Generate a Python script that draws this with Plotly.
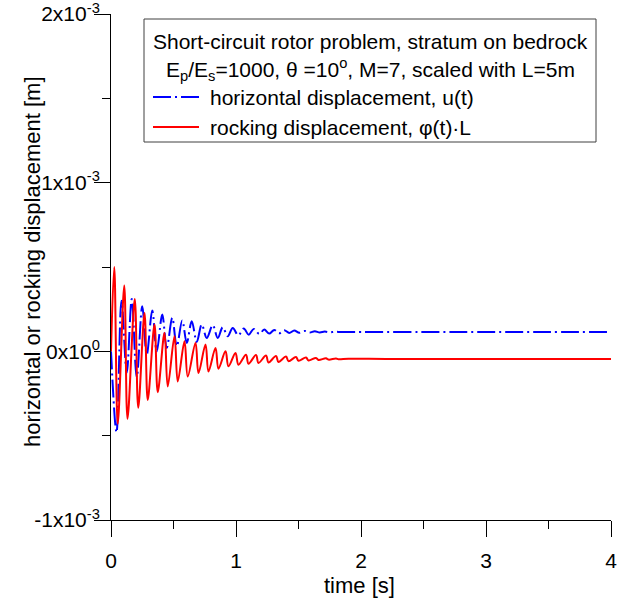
import numpy as np
import plotly.graph_objects as go

# ---- data (displacements, in units of 1e-3 m) ----
t_u = [0.0, 0.044, 0.084, 0.126, 0.166, 0.206, 0.250, 0.286, 0.330, 0.366, 0.410,
       0.446, 0.490, 0.526, 0.570, 0.606, 0.646, 0.686, 0.726, 0.766, 0.814,
       0.854, 0.894, 0.934, 0.974, 1.018, 1.062, 1.102, 1.142, 1.186, 1.226,
       1.266, 1.306, 1.346, 1.386, 1.426, 1.466, 1.506, 1.55, 1.59, 1.63, 1.67,
       1.71, 1.75, 1.79, 1.85, 1.95, 2.5, 3.0, 3.5, 4.0]
u_mm = [0.0, -0.48, 0.30, -0.127, 0.31, -0.155, 0.268, -0.02, 0.242, 0.0, 0.218,
        0.02, 0.199, 0.03, 0.183, 0.05, 0.179, 0.056, 0.159, 0.079, 0.155,
        0.079, 0.143, 0.089, 0.139, 0.095, 0.135, 0.099, 0.133, 0.103, 0.129,
        0.105, 0.127, 0.107, 0.125, 0.109, 0.124, 0.110, 0.121, 0.111, 0.119, 0.112,
        0.117, 0.113, 0.116, 0.114, 0.115, 0.115, 0.115, 0.115, 0.115]

t_phi = [0.0, 0.026, 0.054, 0.106, 0.132, 0.190, 0.218, 0.268, 0.294, 0.348, 0.374,
         0.428, 0.454, 0.508, 0.534, 0.588, 0.614, 0.676, 0.700, 0.756, 0.780,
         0.836, 0.860, 0.916, 0.940, 0.996, 1.020, 1.080, 1.100, 1.160, 1.180,
         1.240, 1.260, 1.320, 1.340, 1.400, 1.420, 1.480, 1.500, 1.560, 1.580,
         1.640, 1.660, 1.720, 1.740, 1.800, 1.820, 1.900, 2.2, 3.0, 4.0]
phiL_mm = [0.0, 0.50, -0.43, 0.39, -0.40, 0.31, -0.335, 0.228, -0.288, 0.159, -0.242,
           0.11, -0.208, 0.089, -0.179, 0.06, -0.149, 0.05, -0.129, 0.04, -0.119,
           0.02, -0.103, 0.0, -0.089, -0.01, -0.079, -0.02, -0.073, -0.022, -0.069,
           -0.025, -0.066, -0.028, -0.063, -0.031, -0.058, -0.034, -0.056, -0.037, -0.054,
           -0.039, -0.051, -0.041, -0.049, -0.043, -0.047, -0.044, -0.045, -0.045, -0.045]

y_tickvals = [-1e-3, 0.0, 1e-3, 2e-3]
y_ticktext = ["-1x10<sup>-3</sup>", "0x10<sup>0</sup>", "1x10<sup>-3</sup>", "2x10<sup>-3</sup>"]
x_tickvals = [0, 1, 2, 3, 4]

legend_title1 = "Short-circuit rotor problem, stratum on bedrock"
legend_title2 = "E<sub>p</sub>/E<sub>s</sub>=1000, \u03b8 =10<sup>o</sup>, M=7, scaled with L=5m"
name_u = "horizontal displacement, u(t)"
name_phi = "rocking displacement, \u03c6(t)\u00b7L"

FONT = "Arial, Liberation Sans, sans-serif"
BLUE = "#0000ff"
RED = "#ff0000"
DASHDOT = "18px,4px,2px,4px"

u = np.array(u_mm) * 1e-3
phiL = np.array(phiL_mm) * 1e-3

fig = go.Figure()
fig.add_trace(go.Scatter(x=t_u, y=u, mode="lines", name=name_u,
                         line=dict(color=BLUE, width=2, dash=DASHDOT, shape="spline", smoothing=1.0),
                         showlegend=False))
fig.add_trace(go.Scatter(x=t_phi, y=phiL, mode="lines", name=name_phi,
                         line=dict(color=RED, width=2, shape="spline", smoothing=1.0),
                         showlegend=False))

W, H = 618, 599
L, R, T, B = 111, 7, 14, 79
pw, ph = W - L - R, H - T - B

def px_x(x):
    return (x - L) / pw

def px_y(y):
    return (H - B - y) / ph

fig.update_layout(
    width=W, height=H, autosize=False,
    margin=dict(l=L, r=R, t=T, b=B, pad=0, autoexpand=False),
    paper_bgcolor="white", plot_bgcolor="white",
    font=dict(family=FONT, size=21, color="black"),
    showlegend=False,
    xaxis=dict(range=[0, 4], tickmode="array", tickvals=x_tickvals, automargin=False,
               ticks="outside", ticklen=16, tickwidth=1, tickcolor="black",
               showline=True, linecolor="black", linewidth=1, mirror=False,
               showgrid=False, zeroline=False, ticklabelstandoff=6,
               ticklabeloverflow="allow", tickfont=dict(size=21),
               minor=dict(tickvals=[0.5, 1.5, 2.5, 3.5], ticks="outside", ticklen=8,
                          tickcolor="black", showgrid=False)),
    yaxis=dict(range=[-1e-3, 2e-3], tickmode="array", tickvals=y_tickvals, ticktext=y_ticktext,
               automargin=False,
               ticks="outside", ticklen=16, tickwidth=1, tickcolor="black",
               showline=True, linecolor="black", linewidth=1, mirror=False,
               showgrid=False, zeroline=False, ticklabelstandoff=-10,
               ticklabeloverflow="allow", tickfont=dict(size=21),
               minor=dict(tickvals=[-0.5e-3, 0.5e-3, 1.5e-3], ticks="outside", ticklen=8,
                          tickcolor="black", showgrid=False)),
)

# axis titles
fig.add_annotation(text="time [s]", xref="paper", yref="paper",
                   x=px_x(359), y=px_y(585), showarrow=False,
                   xanchor="center", yanchor="middle", font=dict(size=22))
fig.add_annotation(text="horizontal or rocking displacement [m]", xref="paper", yref="paper",
                   x=px_x(32), y=px_y(262), showarrow=False, textangle=-90,
                   xanchor="center", yanchor="middle", font=dict(size=22))

# legend box
fig.add_shape(type="rect", xref="paper", yref="paper",
              x0=px_x(144), x1=px_x(596), y0=px_y(142), y1=px_y(19),
              line=dict(color="#404040", width=1), fillcolor="white", layer="above")
fig.add_annotation(text=legend_title1, xref="paper", yref="paper",
                   x=px_x(370), y=px_y(41), showarrow=False,
                   xanchor="center", yanchor="middle", font=dict(size=21))
fig.add_annotation(text=legend_title2, xref="paper", yref="paper",
                   x=px_x(370), y=px_y(69), showarrow=False,
                   xanchor="center", yanchor="middle", font=dict(size=21))
fig.add_shape(type="line", xref="paper", yref="paper",
              x0=px_x(153), x1=px_x(199), y0=px_y(97), y1=px_y(97),
              line=dict(color=BLUE, width=2, dash=DASHDOT), layer="above")
fig.add_shape(type="line", xref="paper", yref="paper",
              x0=px_x(153), x1=px_x(199), y0=px_y(127), y1=px_y(127),
              line=dict(color=RED, width=2), layer="above")
fig.add_annotation(text=name_u, xref="paper", yref="paper",
                   x=px_x(208), y=px_y(97), showarrow=False,
                   xanchor="left", yanchor="middle", font=dict(size=21))
fig.add_annotation(text=name_phi, xref="paper", yref="paper",
                   x=px_x(208), y=px_y(127), showarrow=False,
                   xanchor="left", yanchor="middle", font=dict(size=21))

fig.write_html("out.html")
